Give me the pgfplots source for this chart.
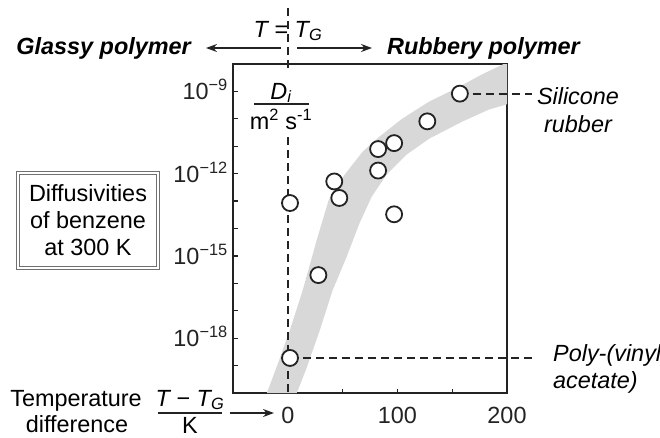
\documentclass[border=0pt]{standalone}
\usepackage{fontspec}
\setmainfont{Liberation Sans}
\usepackage{pgfplots}
\pgfplotsset{compat=1.18}
\usetikzlibrary{arrows.meta}
\definecolor{band}{RGB}{216,216,216}
\definecolor{ink}{RGB}{35,35,35}
\begin{document}
\begin{tikzpicture}[font=\fontsize{23.5}{28}\selectfont, every node/.style={inner sep=0pt}]
\path[use as bounding box] (0,0) rectangle (660bp,-438bp);
\begin{axis}[
  at={(233bp,-393bp)}, anchor=south west,
  scale only axis, width=274bp, height=329bp,
  xmin=-50, xmax=200, ymode=log, ymin=1e-20, ymax=1e-8,
  clip=false,
  axis line style={line width=1.8bp, ink},
  tick style={line width=1.3bp, ink},
  major tick length=4.5bp, minor tick length=4.5bp,
  tick align=inside, xtick pos=left, ytick pos=left,
  xtick={0,50,100,150,200}, xticklabels={0,,100,,200},
  ytick={1e-18,1e-15,1e-12,1e-9},
  yticklabels={10\textsuperscript{−18},10\textsuperscript{−15},10\textsuperscript{−12},10\textsuperscript{−9}},
  minor ytick={1e-19,1e-17,1e-16,1e-14,1e-13,1e-11,1e-10},
  tick label style={font=\fontsize{23.5}{28}\selectfont, inner sep=0pt, text=ink},
  yticklabel style={anchor=base east, xshift=-5bp, yshift=-8.5bp},
  xticklabel style={anchor=north, yshift=-14bp},
]
% grey band (edges): right edge upwards, then left edge downwards
\addplot[fill=band, draw=none] coordinates {
 (8.2,1e-20) (17.3,8.5e-20) (29.1,1.9e-18) (40.9,5.6e-17) (53.6,9.1e-16)
 (65.5,1.58e-14) (76.4,1.41e-13) (90,9.1e-13) (108.2,4.9e-12) (129.1,1.9e-11)
 (159.1,7.9e-11) (183.6,2.19e-10) (200,3.4e-10) (200,1e-8)
 (197,1e-8) (177.3,4.2e-9) (153.6,1.29e-9) (129.1,4.3e-10) (104.5,1.02e-10)
 (83.6,2.24e-11) (68.2,6.3e-12) (51.8,9.1e-13) (37.3,1.1e-13) (26.4,3.8e-15)
 (13.6,5.6e-17) (1.8,1.9e-18) (-9.1,1.17e-19) (-19.1,1e-20)};
% dashed guide lines
\addplot[ink, line width=1.8bp, dash pattern=on 8bp off 5bp] coordinates {(0,1.1e-6) (0,5e-9)};
\addplot[ink, line width=1.8bp, dash pattern=on 8bp off 5bp] coordinates {(0,2.1e-11) (0,1e-20)};
\addplot[ink, line width=1.8bp, dash pattern=on 8bp off 5bp] coordinates {(157,8.3e-10) (222.7,8.3e-10)};
\addplot[ink, line width=1.8bp, dash pattern=on 8bp off 5bp] coordinates {(2,1.9e-19) (222.7,1.9e-19)};
% data
\addplot[only marks, mark=*, mark size=8bp, mark options={fill=white, draw=ink, line width=1.8bp}] coordinates {
 (2,8.5e-14) (27.9,2.0e-16) (42.4,5.2e-13) (47,1.3e-13) (82.4,7.9e-12)
 (97,1.3e-11) (82.4,1.3e-12) (97,3.3e-14) (127.3,8.1e-11) (157,8.3e-10)
 (2,1.9e-19)};
\end{axis}
% top annotations
\node[anchor=base] at (288bp,-37bp) {\itshape T \upshape= \itshape T\textsubscript{G}};
\node[anchor=base east] at (191bp,-54bp) {\bfseries\itshape Glassy polymer};
\node[anchor=base west] at (387bp,-54bp) {\bfseries\itshape Rubbery polymer};
\draw[ink, line width=1.6bp, -{Stealth[length=11bp,width=8bp]}] (281bp,-48bp) -- (206bp,-48bp);
\draw[ink, line width=1.6bp, -{Stealth[length=11bp,width=8bp]}] (297bp,-48bp) -- (372bp,-48bp);
% D_i label
\node[anchor=base] at (281bp,-99bp) {\itshape D\textsubscript{i}};
\draw[ink, line width=1.4bp] (254bp,-104bp) -- (309bp,-104bp);
\node[anchor=base] at (281bp,-129bp) {m\textsuperscript{2} s\textsuperscript{-1}};
% box
\draw[ink!65, double, double distance=1.8bp, line width=1.2bp] (18bp,-173bp) rectangle (158bp,-268bp);
\node[anchor=base] at (88bp,-201bp) {Diffusivities};
\node[anchor=base] at (88bp,-228bp) {of benzene};
\node[anchor=base] at (88bp,-255bp) {at 300 K};
% right labels
\node[anchor=base] at (578bp,-104bp) {\itshape Silicone};
\node[anchor=base] at (578bp,-132bp) {\itshape rubber};
\node[anchor=base west] at (553bp,-361bp) {\itshape Poly-(vinyl};
\node[anchor=base west] at (553bp,-388bp) {\itshape acetate)};
% bottom labels
\node[anchor=base] at (76bp,-406bp) {Temperature};
\node[anchor=base] at (77bp,-432bp) {difference};
\node[anchor=base] at (190bp,-406bp) {\itshape T \upshape− \itshape T\textsubscript{G}};
\draw[ink, line width=1.4bp] (158bp,-413bp) -- (222bp,-413bp);
\node[anchor=base] at (190bp,-433bp) {K};
\draw[ink, line width=1.6bp, -{Stealth[length=11bp,width=8bp]}] (230bp,-413bp) -- (274bp,-413bp);
\end{tikzpicture}
\end{document}
